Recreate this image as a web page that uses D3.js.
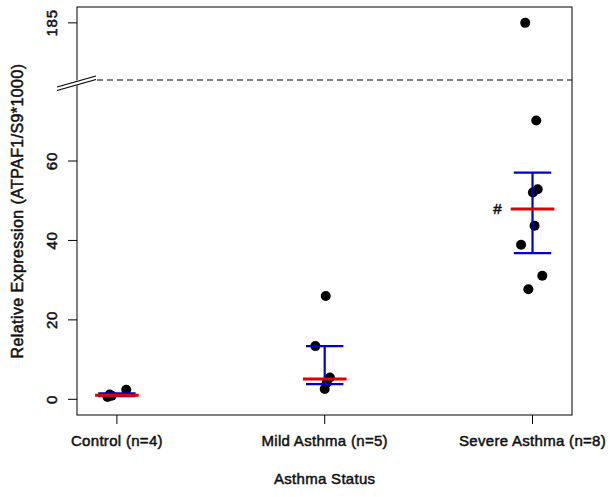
<!DOCTYPE html>
<html>
<head>
<meta charset="utf-8">
<script src="https://cdn.jsdelivr.net/npm/d3@7"></script>
<style>
  body { margin: 0; background: #fff; }
  text { font-family: Arial, "Liberation Sans", sans-serif; fill: #111; stroke: #111; stroke-width: 0.5; }
</style>
</head>
<body>
<div id="chart"></div>
<script>
const width = 614;
const height = 497;
const margin = {top: 7, right: 42, bottom: 82, left: 77};

const groups = ['Control (n=4)', 'Mild Asthma (n=5)', 'Severe Asthma (n=8)'];
// values per group with small horizontal jitter (category units)
const controlValues = [0.6, 0.9, 1.2, 2.4];
const controlJitter = [-0.045, -0.025, -0.035, 0.045];
const mildValues = [26.0, 13.4, 5.5, 4.2, 2.6];
const mildJitter = [0.005, -0.045, 0.025, 0.01, 0.0];
const severeValues = [185, 70.2, 52.9, 52.1, 43.7, 38.9, 31.1, 27.7];
const severeJitter = [-0.035, 0.018, 0.025, 0.002, 0.01, -0.055, 0.047, -0.02];
const medians = [1.0, 5.1, 47.9];
const errLow = [0.8, 3.8, 36.8];
const errHigh = [1.5, 13.4, 57.1];
const yTicks = [0, 20, 40, 60];
const yTicksUpper = [185];

const innerW = width - margin.left - margin.right;
const breakY = 80;

const svg = d3.select('#chart').append('svg')
  .attr('width', width).attr('height', height);

const x = d3.scaleLinear().domain([0.808, 3.19]).range([margin.left, width - margin.right]);
// lower and upper segments of the broken axis
const yLow = d3.scaleLinear().domain([-3.95, 80.4]).range([height - margin.bottom, breakY]);
const yHigh = d3.scaleLinear().domain([170.6, 189]).range([breakY, margin.top]);
const y = v => v > 100 ? yHigh(v) : yLow(v);

// box
svg.append('rect')
  .attr('x', margin.left).attr('y', margin.top)
  .attr('width', innerW).attr('height', height - margin.bottom - margin.top)
  .attr('fill', 'none').attr('stroke', '#000').attr('stroke-width', 1);

// dashed break line
svg.append('line')
  .attr('x1', 97).attr('x2', width - margin.right)
  .attr('y1', breakY).attr('y2', breakY)
  .attr('stroke', '#000').attr('stroke-dasharray', '6,4');

// axis break symbol
svg.append('polygon')
  .attr('points', '57,86 96,75 96,80 57,91')
  .attr('fill', '#fff');
svg.append('line').attr('x1', 57).attr('y1', 87).attr('x2', 96).attr('y2', 76)
  .attr('stroke', '#000').attr('stroke-width', 1.2);
svg.append('line').attr('x1', 57).attr('y1', 90.5).attr('x2', 96).attr('y2', 79.5)
  .attr('stroke', '#000').attr('stroke-width', 1.2);

// y ticks
const yt = yTicks.map(v => ({v, py: yLow(v)})).concat(yTicksUpper.map(v => ({v, py: yHigh(v)})));
yt.forEach(t => {
  svg.append('line').attr('x1', margin.left - 9).attr('x2', margin.left)
    .attr('y1', t.py).attr('y2', t.py).attr('stroke', '#000');
  svg.append('text')
    .attr('transform', `translate(57,${t.py}) rotate(-90)`)
    .attr('text-anchor', 'middle')
    .attr('font-size', 15).attr('letter-spacing', 0.8)
    .text(t.v);
});

// x ticks
groups.forEach((g, i) => {
  const px = x(i + 1);
  svg.append('line').attr('x1', px).attr('x2', px)
    .attr('y1', height - margin.bottom).attr('y2', height - margin.bottom + 9)
    .attr('stroke', '#000');
  svg.append('text')
    .attr('x', px).attr('y', height - margin.bottom + 31)
    .attr('text-anchor', 'middle')
    .attr('font-size', 15).attr('letter-spacing', 0.3)
    .text(g);
});

// axis titles
svg.append('text')
  .attr('x', x(2)).attr('y', 484)
  .attr('text-anchor', 'middle')
  .attr('font-size', 15).attr('letter-spacing', 0.3)
  .text('Asthma Status');
svg.append('text')
  .attr('transform', 'translate(23,211) rotate(-90)')
  .attr('text-anchor', 'middle')
  .attr('font-size', 16).attr('letter-spacing', 0.4)
  .text('Relative Expression (ATPAF1/S9*1000)');

// points
const points = [];
[controlValues, mildValues, severeValues].forEach((vals, i) => {
  const jit = [controlJitter, mildJitter, severeJitter][i];
  vals.forEach((v, j) => points.push({g: i + 1 + jit[j], v}));
});

svg.selectAll('circle.pt')
  .data(points)
  .enter().append('circle')
  .attr('class', 'pt')
  .attr('cx', d => x(d.g))
  .attr('cy', d => y(d.v))
  .attr('r', 5)
  .attr('fill', '#000');

// error bars and medians
const capHalf = 0.09;
groups.forEach((g, i) => {
  const px = x(i + 1);
  const eg = svg.append('g').attr('stroke', '#0000cc').attr('stroke-width', 2.2);
  eg.append('line').attr('x1', px).attr('x2', px)
    .attr('y1', yLow(errLow[i])).attr('y2', yLow(errHigh[i]));
  [errLow[i], errHigh[i]].forEach(v => {
    eg.append('line').attr('x1', x(i + 1 - capHalf)).attr('x2', x(i + 1 + capHalf))
      .attr('y1', yLow(v)).attr('y2', yLow(v));
  });
  svg.append('line')
    .attr('x1', x(i + 1 - 0.105)).attr('x2', x(i + 1 + 0.105))
    .attr('y1', yLow(medians[i])).attr('y2', yLow(medians[i]))
    .attr('stroke', '#e00000').attr('stroke-width', 3);
});

// significance mark
svg.append('text')
  .attr('x', x(3) - 35).attr('y', yLow(medians[2]) + 5)
  .attr('text-anchor', 'middle')
  .attr('font-size', 15)
  .text('#');
</script>
</body>
</html>
